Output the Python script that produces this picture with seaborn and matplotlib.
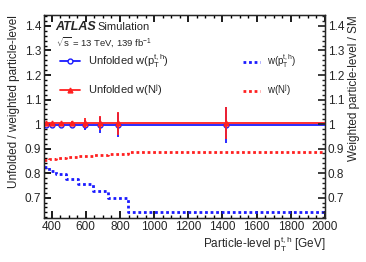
import numpy as np
import pandas as pd
import matplotlib
matplotlib.use("Agg")
import matplotlib.pyplot as plt
from matplotlib.lines import Line2D
from matplotlib.ticker import MultipleLocator
import seaborn as sns

# ---- data ----
bin_edges = [355, 385, 425, 485, 555, 640, 730, 845, 2000]
unf_pt = [0.996, 0.996, 0.996, 0.996, 0.996, 0.996, 0.996, 0.996]
unf_pt_err = [0.008, 0.008, 0.008, 0.010, 0.022, 0.033, 0.050, 0.075]
unf_nj = [1.004, 1.004, 1.004, 1.004, 1.004, 1.004, 1.004, 1.004]
unf_nj_err = [0.006, 0.006, 0.006, 0.008, 0.020, 0.030, 0.047, 0.065]
w_pt = [0.825, 0.807, 0.798, 0.778, 0.757, 0.727, 0.699, 0.640]
w_nj = [0.855, 0.858, 0.860, 0.864, 0.868, 0.872, 0.879, 0.886]
ytick_vals = [0.7, 0.8, 0.9, 1.0, 1.1, 1.2, 1.3, 1.4]
ytick_labels = ["0.7", "0.8", "0.9", "1", "1.1", "1.2", "1.3", "1.4"]

sns.set_theme(style="ticks")
plt.rcParams["font.family"] = ["Liberation Sans", "DejaVu Sans"]
plt.rcParams["mathtext.fontset"] = "custom"
plt.rcParams["mathtext.rm"] = "Liberation Sans"
plt.rcParams["mathtext.it"] = "Liberation Sans"

edges = np.array(bin_edges, dtype=float)
centers = 0.5 * (edges[:-1] + edges[1:])
halfw = 0.5 * (edges[1:] - edges[:-1])

fig = plt.figure(figsize=(3.66, 2.62), dpi=100)
ax = fig.add_axes([0.120, 0.168, 0.768, 0.775])

blue = "#1a1aff"
red = "#ff2020"

df_steps = pd.DataFrame({
    "x": list(edges),
    "w_pt": list(w_pt) + [w_pt[-1]],
    "w_nj": list(w_nj) + [w_nj[-1]],
})
sns.lineplot(data=df_steps, x="x", y="w_pt", ax=ax, color=blue, lw=2.0,
             linestyle=(0, (1, 1)), drawstyle="steps-post")
sns.lineplot(data=df_steps, x="x", y="w_nj", ax=ax, color=red, lw=2.0,
             linestyle=(0, (1, 1)), drawstyle="steps-post")

ax.errorbar(centers, unf_pt, xerr=halfw, yerr=unf_pt_err, fmt="o", ms=3.5,
            mfc="white", mec=blue, color=blue, ecolor=blue, elinewidth=1.3, capsize=0, zorder=3)
ax.errorbar(centers, unf_nj, xerr=halfw, yerr=unf_nj_err, fmt="^", ms=3.5,
            mfc=red, mec=red, color=red, ecolor=red, elinewidth=1.3, capsize=0, zorder=4)

ax.set_xlim(355, 2000)
ax.set_ylim(0.617, 1.445)
ax.xaxis.set_major_locator(MultipleLocator(200))
ax.xaxis.set_minor_locator(MultipleLocator(50))
ax.yaxis.set_minor_locator(MultipleLocator(0.02))
ax.set_yticks(ytick_vals)
ax.set_yticklabels(ytick_labels)
ax.tick_params(which="both", direction="in", top=True, right=False, labelsize=8.5, pad=2, color="black")
ax.tick_params(which="major", length=5)
ax.tick_params(which="minor", length=2.5)
ax.set_xlabel(r"Particle-level $\mathrm{p}_{\mathrm{T}}^{\mathrm{t,h}}$ [GeV]", fontsize=8.5, loc="right", labelpad=1)
ax.set_ylabel("Unfolded / weighted particle-level", fontsize=8.5, loc="top", labelpad=3)
for s in ax.spines.values():
    s.set_linewidth(0.9)
    s.set_color("black")

ax2 = ax.twinx()
ax2.set_ylim(ax.get_ylim())
ax2.yaxis.set_minor_locator(MultipleLocator(0.02))
ax2.set_yticks(ytick_vals)
ax2.set_yticklabels(ytick_labels)
ax2.tick_params(which="both", direction="in", labelsize=8.5, pad=2)
ax2.tick_params(which="major", length=5)
ax2.tick_params(which="minor", length=2.5)
ax2.set_ylabel("Weighted particle-level / SM", fontsize=8.5, loc="top", labelpad=3)
for s in ax2.spines.values():
    s.set_linewidth(0.9)

# texts
ax.text(0.040, 0.941, "ATLAS", transform=ax.transAxes, fontsize=9, fontweight="bold",
        style="italic", va="center")
ax.text(0.192, 0.941, "Simulation", transform=ax.transAxes, fontsize=8, va="center")
ax.text(0.042, 0.867, r"$\sqrt{s}$ = 13 TeV, 139 fb$^{-1}$", transform=ax.transAxes,
        fontsize=6.8, va="center")

def entry(handle, label, x, y, fs, hl):
    leg = ax.legend([handle], [label], loc="center left", bbox_to_anchor=(x, y),
                    frameon=False, fontsize=fs, borderpad=0, borderaxespad=0,
                    handlelength=hl, handletextpad=0.7)
    ax.add_artist(leg)

entry(Line2D([], [], color=blue, lw=1.3, marker="o", ms=3.5, mfc="white", mec=blue),
      r"Unfolded w($\mathrm{p}_{\mathrm{T}}^{\mathrm{t,h}}$)", 0.057, 0.773, 8, 1.8)
entry(Line2D([], [], color=red, lw=1.3, marker="^", ms=3.5, mfc=red, mec=red),
      r"Unfolded w($\mathrm{N}^{\mathrm{j}}$)", 0.057, 0.630, 8, 1.8)
entry(Line2D([], [], color=blue, lw=2.0, linestyle=(0, (1, 1))),
      r"w($\mathrm{p}_{\mathrm{T}}^{\mathrm{t,h}}$)", 0.708, 0.773, 7, 1.75)
entry(Line2D([], [], color=red, lw=2.0, linestyle=(0, (1, 1))),
      r"w($\mathrm{N}^{\mathrm{j}}$)", 0.708, 0.630, 7, 1.75)
ax.legend_ = None

fig.savefig("out.png", dpi=100)
